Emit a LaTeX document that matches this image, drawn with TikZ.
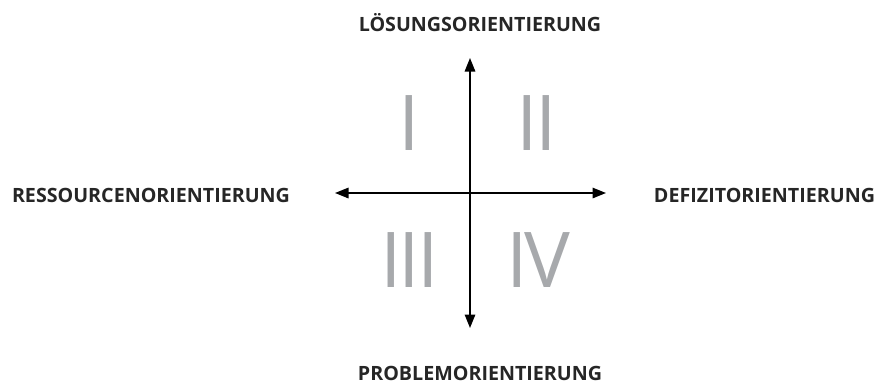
\documentclass[tikz,border=0pt]{standalone}
\usepackage{fontspec}
\setmainfont{Open Sans}
\usetikzlibrary{arrows.meta}
\definecolor{numgray}{RGB}{167,169,172}

\begin{document}
\begin{tikzpicture}[x=0.02cm,y=-0.02cm,
        axislabel/.style={anchor=base,font=\fontsize{11.2}{13}\selectfont\bfseries,text=black!85,inner sep=0pt},
        quadrant/.style={anchor=base,font=\fontsize{43.8}{50}\selectfont\addfontfeature{LetterSpace=-4},text=numgray,inner sep=0pt}]
        \useasboundingbox (0,0) rectangle (875,383);
        \coordinate (top) at (470,58);
        \coordinate (bottom) at (470,328);
        \coordinate (left) at (335,193);
        \coordinate (right) at (606,193);
        \draw[line width=0.85pt,{Triangle[length=2.7mm,width=2.1mm]}-{Triangle[length=2.7mm,width=2.1mm]}] (left) -- (right);
        \draw[line width=0.85pt,{Triangle[length=2.7mm,width=2.1mm]}-{Triangle[length=2.7mm,width=2.1mm]}] (bottom) -- (top);
        \node[axislabel] (loesung) at (480,31.5) {LÖSUNGSORIENTIERUNG};
        \node[axislabel] (problem) at (480,380) {PROBLEMORIENTIERUNG};
        \node[axislabel] (ressource) at (151,202) {RESSOURCENORIENTIERUNG};
        \node[axislabel] (defizit) at (764.5,202) {DEFIZITORIENTIERUNG};
        \node[quadrant] (q1) at (409.5,150) {I};
        \node[quadrant] (q2) at (536.5,150) {II};
        \node[quadrant] (q3) at (409.5,287) {III};
        \node[quadrant] (q4) at (538.5,287) {IV};
        \end{tikzpicture}
\end{document}
